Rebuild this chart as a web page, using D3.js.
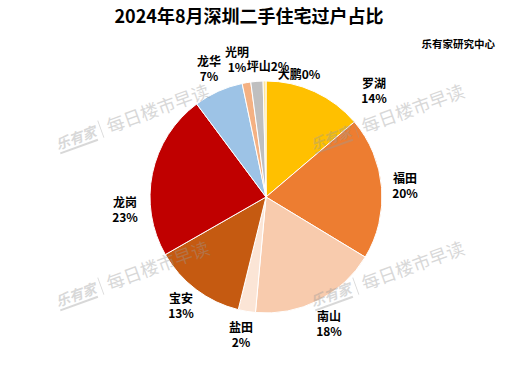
<!DOCTYPE html>
<html>
<head>
<meta charset="utf-8">
<script src="https://cdn.jsdelivr.net/npm/d3@7"></script>
<style>
  body { margin: 0; background: #fff; }
  svg { display: block; font-family: "Noto Sans CJK SC", "Noto Sans", sans-serif; }
</style>
</head>
<body>
<svg width="519" height="386"></svg>
<script>
// Data
var districts = ["罗湖", "福田", "南山", "盐田", "宝安", "龙岗", "龙华", "光明", "坪山", "大鹏"];
var shares = [13.8, 19.9, 17.8, 2.4, 12.9, 23.1, 6.9, 1.2, 1.7, 0.4];
var colors = ["#FFC000", "#ED7D31", "#F8CBAD", "#FBE5D6", "#C55A11", "#C00000", "#9DC3E6", "#F4B183", "#BFBFBF", "#FFE699"];

// label placement (Excel best fit), offsets from pie center
var labelLayout = {
  "罗湖": [108, -113, false],
  "福田": [139, -18, false],
  "南山": [63, 120, false],
  "盐田": [-25, 131, false],
  "宝安": [-85, 102, false],
  "龙岗": [-141, 6, false],
  "龙华": [-57, -135, false],
  "光明": [-29, -144, false],
  "坪山": [2, -130, true],
  "大鹏": [33, -122, true]
};

var svg = d3.select("svg"),
  width = +svg.attr("width"),
  height = +svg.attr("height");

var cx = 266, cy = 197, radius = 116;

var data = districts.map(function(d, i) { return {name: d, value: shares[i], color: colors[i]}; });
var total = d3.sum(shares);

//###############################################
// Title
//###############################################

svg.append("text")
  .attr("x", 249).attr("y", 23)
  .attr("text-anchor", "middle")
  .attr("font-size", 18).attr("font-weight", "bold")
  .text("2024年8月深圳二手住宅过户占比");

svg.append("text")
  .attr("x", 495).attr("y", 48)
  .attr("text-anchor", "end")
  .attr("font-size", 10.5).attr("font-weight", "bold")
  .text("乐有家研究中心");

//###############################################
// Pie
//###############################################

var pie = d3.pie().sort(null).value(function(d) { return d.value; });
var arc = d3.arc().innerRadius(0).outerRadius(radius);

var g = svg.append("g").attr("transform", "translate(" + cx + "," + cy + ")");

g.selectAll("path")
  .data(pie(data))
  .enter().append("path")
    .attr("d", arc)
    .attr("fill", function(d) { return d.data.color; })
    .attr("stroke", "#fff")
    .attr("stroke-width", 1);

var labels = g.selectAll("text.lbl")
  .data(data)
  .enter().append("text")
    .attr("class", "lbl")
    .attr("text-anchor", "middle")
    .attr("font-size", 12).attr("font-weight", "bold")
    .attr("fill", "#000");

labels.each(function(d) {
  var p = labelLayout[d.name];
  var pct = Math.round(d.value / total * 100) + "%";
  var t = d3.select(this);
  if (p[2]) {
    t.append("tspan").attr("x", p[0]).attr("y", p[1] + 4).text(d.name + pct);
  } else {
    t.append("tspan").attr("x", p[0]).attr("y", p[1] + 4).text(d.name);
    t.append("tspan").attr("x", p[0]).attr("y", p[1] + 19).text(pct);
  }
});

//###############################################
// Watermarks
//###############################################

var marks = [[58, 150], [313, 150], [58, 307], [313, 307]];

var wm = svg.append("g").attr("pointer-events", "none")
  .selectAll("g")
  .data(marks)
  .enter().append("g")
    .attr("transform", function(d) { return "translate(" + d[0] + "," + d[1] + ") rotate(-20)"; })
    .attr("fill", "#9a9a9a")
    .attr("opacity", 0.38);

wm.append("text")
  .attr("x", 0).attr("y", 0)
  .attr("font-size", 14).attr("font-weight", "bold").attr("font-style", "italic")
  .text("乐有家");
wm.append("rect")
  .attr("x", 1).attr("y", 3).attr("width", 40).attr("height", 2);
wm.append("rect")
  .attr("x", 47).attr("y", -14).attr("width", 0.8).attr("height", 18);
wm.append("text")
  .attr("x", 54).attr("y", 2)
  .attr("font-size", 18)
  .text("每日楼市早读");
</script>
</body>
</html>
